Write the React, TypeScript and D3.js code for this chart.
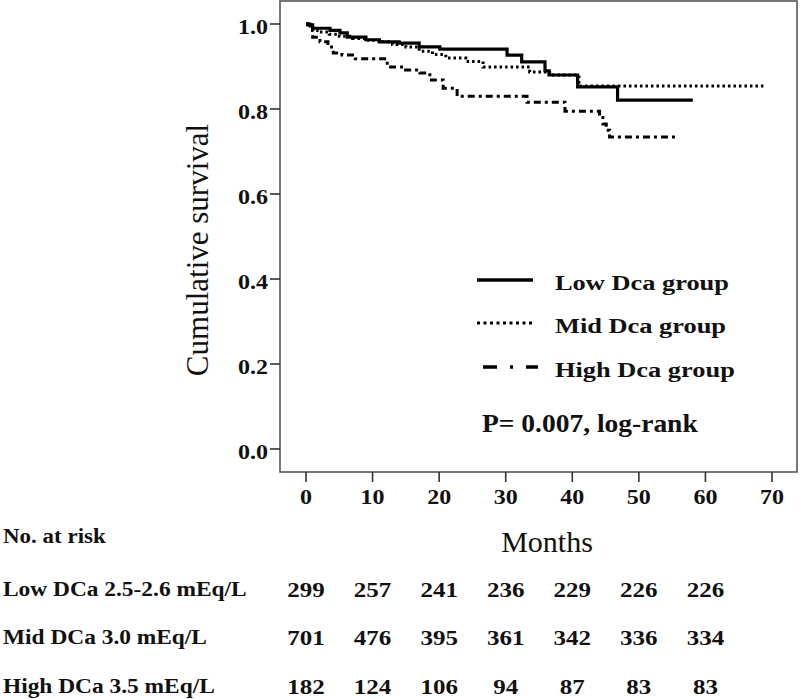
import React from "react";
import * as d3 from "d3";

const lowT = [0, 0.3, 1, 3.6, 5.1, 6.2, 9, 11, 14, 17, 20.1, 30.2, 32.4, 35.9, 36.5, 40.8, 46.8, 58.1];
const lowS = [1.0, 0.998, 0.99, 0.985, 0.979, 0.969, 0.963, 0.958, 0.955, 0.946, 0.941, 0.927, 0.911, 0.89, 0.88, 0.852, 0.821, 0.821];

const midT = [0, 0.3, 1, 2, 3.5, 5, 7, 9, 11, 13, 15, 17, 19, 21, 24, 26.6, 33.6, 36.6, 41, 69];
const midS = [1.0, 0.995, 0.985, 0.981, 0.976, 0.971, 0.966, 0.962, 0.958, 0.952, 0.946, 0.936, 0.928, 0.92, 0.912, 0.899, 0.887, 0.88, 0.854, 0.854];

const highT = [0, 0.6, 1, 2.1, 3.3, 4.1, 5.4, 7.4, 12.2, 14.6, 17.1, 18.6, 20.6, 22.7, 33.2, 38.9, 44.1, 44.6, 45.1, 45.6, 55.9];
const highS = [1.0, 0.986, 0.969, 0.958, 0.946, 0.932, 0.927, 0.918, 0.899, 0.892, 0.885, 0.868, 0.849, 0.83, 0.816, 0.795, 0.78, 0.765, 0.75, 0.734, 0.734];

const xTicks = [0, 10, 20, 30, 40, 50, 60, 70];
const yTicks = [0, 0.2, 0.4, 0.6, 0.8, 1.0];

const riskTimes = [0, 10, 20, 30, 40, 50, 60];
const riskLabels = ["Low DCa 2.5-2.6 mEq/L", "Mid DCa 3.0 mEq/L", "High DCa 3.5 mEq/L"];
const riskLow = [299, 257, 241, 236, 229, 226, 226];
const riskMid = [701, 476, 395, 361, 342, 336, 334];
const riskHigh = [182, 124, 106, 94, 87, 83, 83];

const legendLabels = ["Low Dca group", "Mid Dca group", "High Dca group"];

const FONT = "'Liberation Serif', 'Times New Roman', serif";

export default function App() {
  const x = d3.scaleLinear().domain([0, 70]).range([306, 772]);
  const y = d3.scaleLinear().domain([0, 1]).range([449, 24]);
  const line = d3
    .line<[number, number]>()
    .x((d) => x(d[0]))
    .y((d) => y(d[1]))
    .curve(d3.curveStepAfter);

  const zip = (t: number[], s: number[]) => t.map((v, i) => [v, s[i]] as [number, number]);

  const series = [
    { pts: zip(lowT, lowS), dash: "none", width: 3.2 },
    { pts: zip(midT, midS), dash: "2.5,3", width: 3 },
    { pts: zip(highT, highS), dash: "7,4,3,4", width: 3 },
  ];
  const legendDash = ["none", "3,3.5", "14,13,3,13"];
  const riskRows = [riskLow, riskMid, riskHigh];
  const rowY = [590, 638, 687];

  return (
    <svg width={800} height={699} style={{ position: "absolute", left: 0, top: 0, background: "#fff" }} fontFamily={FONT}>
      <rect x={0} y={0} width={800} height={699} fill="#fff" />
      {/* frame */}
      <rect x={280} y={1} width={517} height={471} fill="none" stroke="#555" strokeWidth={1.6} />
      {/* y ticks */}
      {yTicks.map((v) => (
        <g key={"y" + v}>
          <line x1={270} x2={280} y1={y(v)} y2={y(v)} stroke="#333" strokeWidth={1.6} />
          <text
            transform={`translate(268,${y(v) + 3}) scale(1.2,1)`}
            textAnchor="end"
            dominantBaseline="central"
            fontSize={20}
            fontWeight="bold"
            fill="#111"
          >
            {v.toFixed(1)}
          </text>
        </g>
      ))}
      {/* x ticks */}
      {xTicks.map((v) => (
        <g key={"x" + v}>
          <line x1={x(v)} x2={x(v)} y1={472} y2={482} stroke="#333" strokeWidth={1.6} />
          <text
            transform={`translate(${x(v)},${497}) scale(1.2,1)`}
            textAnchor="middle"
            dominantBaseline="central"
            fontSize={20}
            fontWeight="bold"
            fill="#111"
          >
            {v}
          </text>
        </g>
      ))}
      {/* curves */}
      {series.map((s, i) => (
        <path
          key={"c" + i}
          d={line(s.pts) || ""}
          fill="none"
          stroke="#000"
          strokeWidth={s.width}
          strokeDasharray={s.dash}
        />
      ))}
      {/* legend */}
      {legendLabels.map((lab, i) => {
        const ly = [280, 323, 367][i];
        return (
          <g key={"l" + i}>
            <line
              x1={i === 2 ? 483 : 477}
              x2={i === 2 ? 538 : 533}
              y1={ly}
              y2={ly}
              stroke="#000"
              strokeWidth={i === 1 ? 3 : 3.6}
              strokeDasharray={legendDash[i]}
            />
            <text
              transform={`translate(555,${ly + 2}) scale(1.2,1)`}
              dominantBaseline="central"
              fontSize={22}
              fontWeight="bold"
              fill="#111"
            >
              {lab}
            </text>
          </g>
        );
      })}
      <text
        transform={`translate(482,424) scale(1.1,1)`}
        dominantBaseline="central"
        fontSize={25}
        fontWeight="bold"
        fill="#111"
      >
        P= 0.007, log-rank
      </text>
      {/* axis titles */}
      <text
        transform="translate(197,250) rotate(-90)"
        textAnchor="middle"
        dominantBaseline="central"
        fontSize={31}
        fill="#111"
      >
        Cumulative survival
      </text>
      <text x={547} y={541} textAnchor="middle" dominantBaseline="central" fontSize={30} fill="#111">
        Months
      </text>
      {/* risk table */}
      <text
        transform="translate(3,537) scale(1.15,1)"
        dominantBaseline="central"
        fontSize={20}
        fontWeight="bold"
        fill="#111"
      >
        No. at risk
      </text>
      {riskLabels.map((lab, i) => (
        <text
          key={"rl" + i}
          transform={`translate(3,${rowY[i]}) scale(1.17,1)`}
          dominantBaseline="central"
          fontSize={20}
          fontWeight="bold"
          fill="#111"
        >
          {lab}
        </text>
      ))}
      {riskRows.map((row, i) =>
        row.map((n, j) => (
          <text
            key={"rn" + i + "-" + j}
            transform={`translate(${x(riskTimes[j])},${rowY[i]}) scale(1.25,1)`}
            textAnchor="middle"
            dominantBaseline="central"
            fontSize={20}
            fontWeight="bold"
            fill="#111"
          >
            {n}
          </text>
        ))
      )}
    </svg>
  );
}
